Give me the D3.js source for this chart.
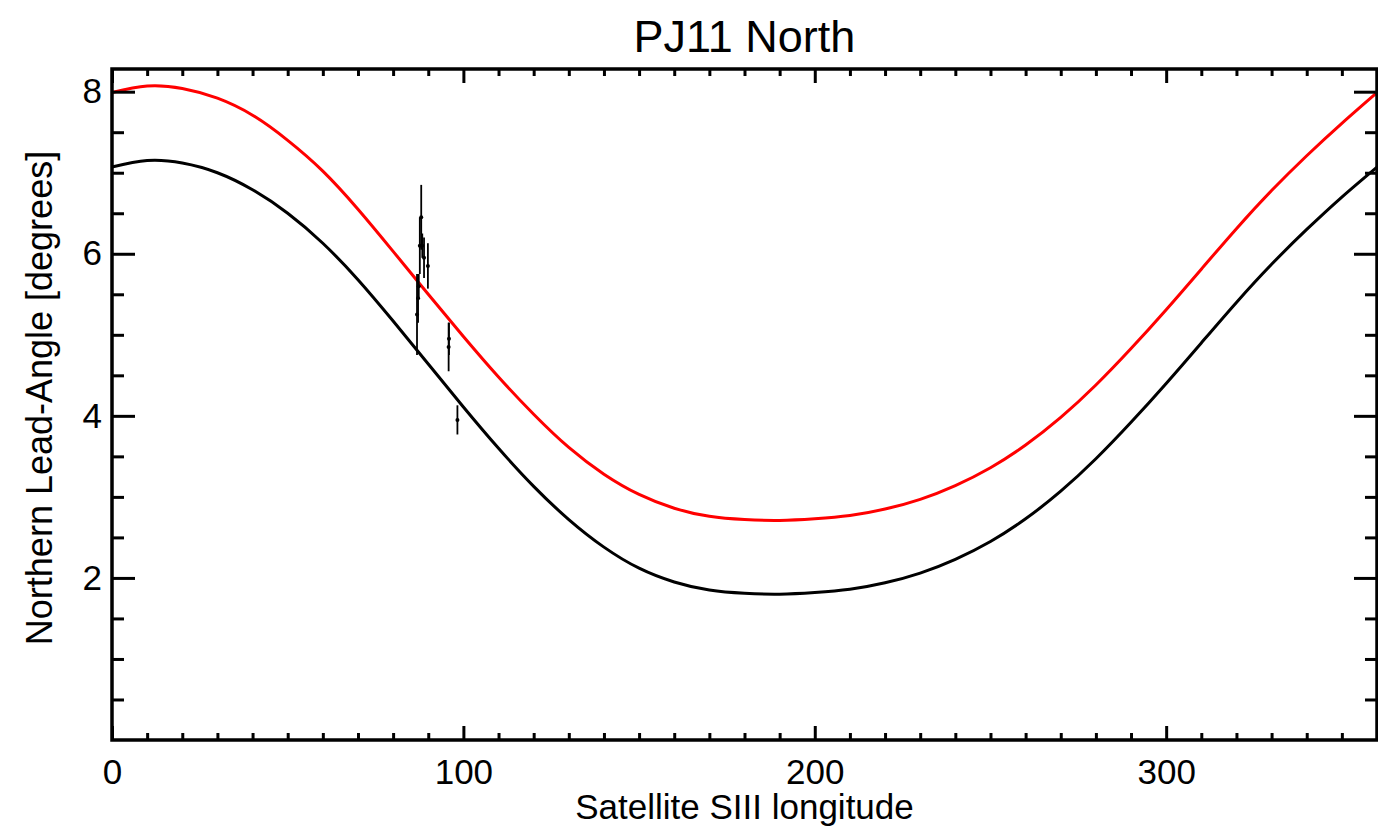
<!DOCTYPE html>
<html>
<head>
<meta charset="utf-8">
<script src="https://cdn.jsdelivr.net/npm/d3@7"></script>
<style>
	body { margin: 0; background: #fff; }
	text { font-family: "Liberation Sans", Arial, Helvetica, sans-serif; fill: #000; }
</style>
</head>
<body>
<script>

// model curves (longitude in degrees, lead angle in degrees)
var lonModel = [0, 10, 20, 30, 40, 50, 60, 70, 80, 90, 100, 110, 120, 130, 140, 150, 160, 170, 180,
	190, 200, 210, 220, 230, 240, 250, 260, 270, 280, 290, 300, 310, 320, 330, 340, 350, 360];
var leadBlack = [7.07, 7.15, 7.12, 7.00, 6.79, 6.50, 6.13, 5.68, 5.17, 4.64, 4.11, 3.60, 3.13, 2.72, 2.38, 2.12, 1.95, 1.85, 1.81,
	1.80, 1.82, 1.86, 1.94, 2.06, 2.23, 2.45, 2.73, 3.07, 3.47, 3.92, 4.40, 4.90, 5.40, 5.87, 6.30, 6.70, 7.07];
var leadRed = [7.99, 8.07, 8.04, 7.92, 7.71, 7.40, 7.02, 6.55, 6.03, 5.50, 4.98, 4.48, 4.02, 3.61, 3.28, 3.03, 2.86, 2.76, 2.72,
	2.71, 2.73, 2.77, 2.85, 2.97, 3.14, 3.36, 3.64, 3.98, 4.38, 4.83, 5.31, 5.81, 6.31, 6.78, 7.21, 7.61, 7.99];

// measured footprints with error bars
var obsLon = [86.8, 87.1, 87.3, 87.6, 88.0, 88.3, 88.8, 89.9, 95.8, 95.9, 98.3];
var obsLead = [5.25, 5.45, 5.60, 6.10, 6.45, 6.10, 5.95, 5.85, 4.85, 4.95, 3.95];
var obsErr = [0.50, 0.30, 0.15, 0.35, 0.40, 0.15, 0.25, 0.28, 0.30, 0.20, 0.18];

var xMajor = [0, 100, 200, 300];
var yMajor = [2, 4, 6, 8];

var W = 1378, H = 835;
var plot = { left: 112, right: 1377, top: 69, bottom: 740 };

var svg = d3.select('body').append('svg')
	.attr('width', W)
	.attr('height', H);

var x = d3.scaleLinear().domain([0, 360]).range([plot.left, plot.right]);
var y = d3.scaleLinear().domain([0, 8.28]).range([plot.bottom, plot.top]);

var xMinor = d3.range(10, 360, 10).filter(function(d) { return d % 100 != 0; });
var yMinor = d3.range(0.5, 8.1, 0.5).filter(function(d) { return d % 2 != 0; });

// curves
var line = d3.line()
	.x(function(d) { return x(d[0]); })
	.y(function(d) { return y(d[1]); })
	.curve(d3.curveNatural);

svg.append('path')
	.datum(d3.zip(lonModel, leadBlack))
	.attr('fill', 'none')
	.attr('stroke', '#000')
	.attr('stroke-width', 3)
	.attr('d', line);

svg.append('path')
	.datum(d3.zip(lonModel, leadRed))
	.attr('fill', 'none')
	.attr('stroke', '#ff0000')
	.attr('stroke-width', 3)
	.attr('d', line);

// error bars
var obs = d3.range(obsLon.length).map(function(i) {
	return { lon: obsLon[i], lead: obsLead[i], err: obsErr[i] };
});

svg.append('g').selectAll('line')
	.data(obs).enter()
	.append('line')
	.attr('x1', function(d) { return x(d.lon); })
	.attr('x2', function(d) { return x(d.lon); })
	.attr('y1', function(d) { return y(d.lead - d.err); })
	.attr('y2', function(d) { return y(d.lead + d.err); })
	.attr('stroke', '#000')
	.attr('stroke-width', 1.8);

svg.append('g').selectAll('circle')
	.data(obs).enter()
	.append('circle')
	.attr('cx', function(d) { return x(d.lon); })
	.attr('cy', function(d) { return y(d.lead); })
	.attr('r', 2)
	.attr('fill', '#000');

// axes, ticks pointing inward on all four sides
var fontSize = 35;

function styleAxis(g, width) {
	g.select('.domain').remove();
	g.selectAll('.tick line').attr('stroke', '#000').attr('stroke-width', width);
	g.selectAll('text').attr('font-size', fontSize).attr('font-family', null);
}

svg.append('g')
	.attr('transform', 'translate(0,' + plot.bottom + ')')
	.call(d3.axisBottom(x).tickValues(xMajor).tickSize(-14).tickPadding(19).tickFormat(d3.format('d')))
	.call(styleAxis, 3);
svg.append('g')
	.attr('transform', 'translate(0,' + plot.bottom + ')')
	.call(d3.axisBottom(x).tickValues(xMinor).tickSize(-7).tickFormat(''))
	.call(styleAxis, 3);
svg.append('g')
	.attr('transform', 'translate(0,' + plot.top + ')')
	.call(d3.axisTop(x).tickValues(xMajor).tickSize(-14).tickFormat(''))
	.call(styleAxis, 3);
svg.append('g')
	.attr('transform', 'translate(0,' + plot.top + ')')
	.call(d3.axisTop(x).tickValues(xMinor).tickSize(-7).tickFormat(''))
	.call(styleAxis, 3);

svg.append('g')
	.attr('transform', 'translate(' + plot.left + ',0)')
	.call(d3.axisLeft(y).tickValues(yMajor).tickSize(-23).tickPadding(10).tickFormat(d3.format('d')))
	.call(styleAxis, 3);
svg.append('g')
	.attr('transform', 'translate(' + plot.left + ',0)')
	.call(d3.axisLeft(y).tickValues(yMinor).tickSize(-12).tickFormat(''))
	.call(styleAxis, 3);
svg.append('g')
	.attr('transform', 'translate(' + plot.right + ',0)')
	.call(d3.axisRight(y).tickValues(yMajor).tickSize(-23).tickFormat(''))
	.call(styleAxis, 3);
svg.append('g')
	.attr('transform', 'translate(' + plot.right + ',0)')
	.call(d3.axisRight(y).tickValues(yMinor).tickSize(-12).tickFormat(''))
	.call(styleAxis, 3);

// frame
svg.append('rect')
	.attr('x', plot.left)
	.attr('y', plot.top)
	.attr('width', plot.right - plot.left)
	.attr('height', plot.bottom - plot.top)
	.attr('fill', 'none')
	.attr('stroke', '#000')
	.attr('stroke-width', 3.5);

// titles
svg.append('text')
	.attr('x', (plot.left + plot.right) / 2)
	.attr('y', 52)
	.attr('text-anchor', 'middle')
	.attr('font-size', 45)
	.text('PJ11 North');

svg.append('text')
	.attr('x', (plot.left + plot.right) / 2)
	.attr('y', 819)
	.attr('text-anchor', 'middle')
	.attr('font-size', 35)
	.text('Satellite SIII longitude');

svg.append('text')
	.attr('transform', 'translate(52,398) rotate(-90)')
	.attr('text-anchor', 'middle')
	.attr('font-size', 36)
	.text('Northern Lead-Angle [degrees]');

</script>
</body>
</html>
